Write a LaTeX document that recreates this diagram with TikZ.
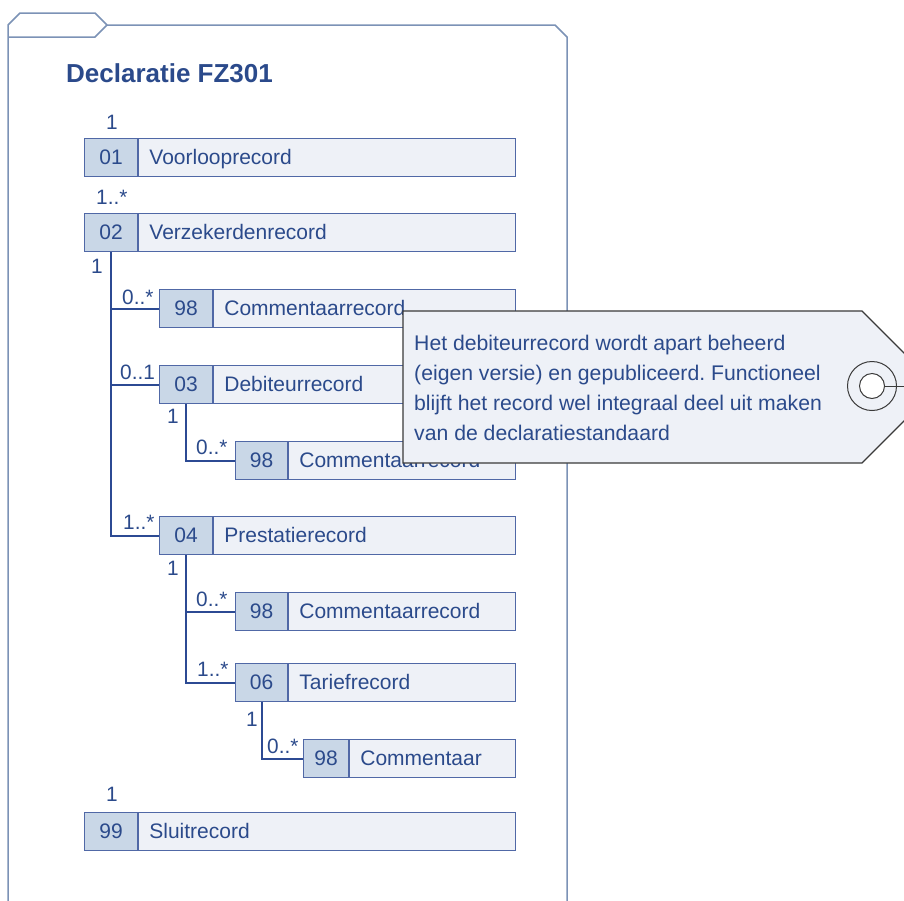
\documentclass[tikz,border=0pt]{standalone}
\usepackage{fontspec}
\setmainfont{Liberation Sans}
\frenchspacing
\definecolor{txtblue}{HTML}{2B4A8B}
\definecolor{boxline}{HTML}{5068A6}
\definecolor{numfill}{HTML}{C9D7E7}
\definecolor{namefill}{HTML}{EEF1F7}
\definecolor{connblue}{HTML}{2C4A93}
\definecolor{framecol}{HTML}{7C92B6}
\definecolor{tagline}{HTML}{3A3A3A}
\tikzset{
  numcell/.style={draw=boxline, line width=1.2pt, fill=numfill, minimum height=38pt, inner sep=0pt, text=txtblue, font=\fontsize{21}{25}\selectfont},
  namecell/.style={draw=boxline, line width=1.2pt, fill=namefill, minimum height=38pt, inner sep=0pt},
  lbl/.style={inner sep=0pt, text=txtblue, font=\fontsize{21}{25}\selectfont},
  mult/.style={inner sep=0pt, text=txtblue, font=\fontsize{20.8}{25}\selectfont, anchor=base west},
  conn/.style={draw=connblue, line width=2pt},
  frame/.style={draw=framecol, line width=1.5pt},
}
\newcommand\recbox[7]{%
  \node[numcell, minimum width=#4pt, anchor=north west] (#1n) at (#2,#3) {#6};
  \node[namecell, minimum width=#5pt, anchor=north west] (#1) at (#1n.north east) {};
  \node[lbl, anchor=base west] (#1t) at ([shift={(11,26)}]#1.north west) {#7};}
\begin{document}
\begin{tikzpicture}[x=1pt,y=-1pt]
\useasboundingbox (0,0) rectangle (904,900);
\fill[white] (0,0) rectangle (904,900);
% frame
\draw[frame] (8,902) -- (8,25) -- (20,13) -- (95,13) -- (107,25) -- (555,25) -- (567,37) -- (567,902);
\draw[frame] (8,37) -- (95,37) -- (107,25);
% title
\node[inner sep=0pt, anchor=base west, text=txtblue, font=\fontsize{26}{30}\selectfont\bfseries] (title) at (66,82) {Declaratie FZ301};
% records
\recbox{r01}{84}{138}{53}{377}{01}{Voorlooprecord}
\recbox{r02}{84}{213}{53}{377}{02}{Verzekerdenrecord}
\recbox{r98a}{159}{289}{53}{302}{98}{Commentaarrecord}
\recbox{r03}{159}{365}{53}{302}{03}{Debiteurrecord}
\recbox{r98b}{235}{441}{52}{227}{98}{Commentaarrecord}
\recbox{r04}{159}{516}{53}{302}{04}{Prestatierecord}
\recbox{r98c}{235}{592}{52}{227}{98}{Commentaarrecord}
\recbox{r06}{235}{663}{52}{227}{06}{Tariefrecord}
\recbox{r98d}{303}{739}{45}{166}{98}{Commentaar}
\recbox{r99}{84}{812}{53}{377}{99}{Sluitrecord}
% connectors
\draw[conn] (r02n.south) |- (r04n.west);
\draw[conn] (r02n.south) |- (r98an.west);
\draw[conn] (r02n.south) |- (r03n.west);
\draw[conn] (r03n.south) |- (r98bn.west);
\draw[conn] (r04n.south) |- (r98cn.west);
\draw[conn] (r04n.south) |- (r06n.west);
\draw[conn] (r06n.south) |- (r98dn.west);
% multiplicities
\node[mult] (m1) at (106,129) {1};
\node[mult] (m2) at (96,204) {1..*};
\node[mult] (m3) at (91,273) {1};
\node[mult] (m4) at (122,304) {0..*};
\node[mult] (m5) at (120,379) {0..1};
\node[mult] (m6) at (167,423) {1};
\node[mult] (m7) at (196,454) {0..*};
\node[mult] (m8) at (123,529) {1..*};
\node[mult] (m9) at (167,575) {1};
\node[mult] (m10) at (196,606) {0..*};
\node[mult] (m11) at (197,676) {1..*};
\node[mult] (m12) at (246,726) {1};
\node[mult] (m13) at (267,753) {0..*};
\node[mult] (m14) at (106,801) {1};
% note tag
\begin{scope}
\clip (0,0) rectangle (904,900);
\draw[draw=tagline, line width=1.2pt, fill=namefill] (403,311) -- (862,311) -- (938,387) -- (862,463) -- (403,463) -- cycle;
\node[draw=tagline, line width=1pt, circle, minimum size=49pt, inner sep=0pt] (ring) at (872,386) {};
\node[draw=tagline, line width=1pt, circle, fill=white, minimum size=25pt, inner sep=0pt] (hole) at (872,386) {};
\coordinate (tagedge) at (906,386);
\draw[draw=tagline, line width=1pt] (hole.east) -- (tagedge);
\end{scope}
\node[inner sep=0pt, anchor=base west, align=left, text=txtblue, font=\fontsize{21.2}{30}\selectfont] (note) at (414,440) {Het debiteurrecord wordt apart beheerd\\(eigen versie) en gepubliceerd. Functioneel\\blijft het record wel integraal deel uit maken\\van de declaratiestandaard};
\end{tikzpicture}
\end{document}
